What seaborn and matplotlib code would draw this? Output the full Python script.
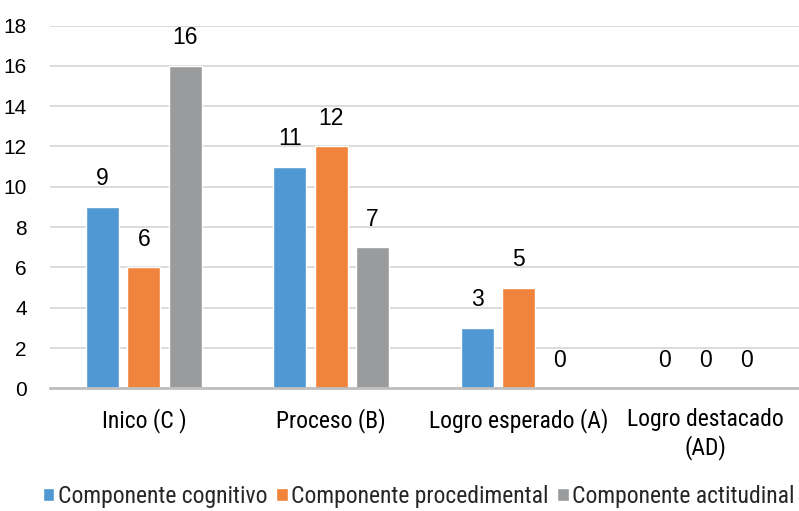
import matplotlib
matplotlib.use("Agg")
import matplotlib.pyplot as plt
import seaborn as sns
import pandas as pd

categories = ["Inico (C )", "Proceso (B)", "Logro esperado (A)", "Logro destacado\n(AD)"]
series = ["Componente cognitivo", "Componente procedimental", "Componente actitudinal"]
cognitivo = [9, 11, 3, 0]
procedimental = [6, 12, 5, 0]
actitudinal = [16, 7, 0, 0]
colors = ["#4F98D4", "#F0843C", "#999B9D"]

rows = []
for name, vals in zip(series, [cognitivo, procedimental, actitudinal]):
    for cat, v in zip(categories, vals):
        rows.append({"Nivel": cat, "Componente": name, "Valor": v})
df = pd.DataFrame(rows)

sns.set_theme(style="white")
text_font = ["Roboto Condensed", "Liberation Sans", "DejaVu Sans"]
digit_font = ["Liberation Sans", "DejaVu Sans"]
plt.rcParams["font.family"] = text_font

fig, ax = plt.subplots(figsize=(7.99, 5.11), dpi=100)
fig.subplots_adjust(left=0.063, right=1.0, top=0.95, bottom=0.24)

sns.barplot(data=df, x="Nivel", y="Valor", hue="Componente", palette=colors,
            width=0.66, gap=0.2, ax=ax, saturation=1, legend=True)

for cont in ax.containers:
    ax.bar_label(cont, labels=[f"{int(v)}" for v in cont.datavalues],
                 padding=12, fontsize=16.5, color="#000000", family=digit_font)

ax.set_ylim(0, 18)
ax.set_yticks(range(0, 19, 2))
ax.set_xlim(-0.5, 3.5)
ax.yaxis.grid(True, color="#D9D9D9", linewidth=1.3)
ax.set_axisbelow(True)
for s in ["top", "right", "left"]:
    ax.spines[s].set_visible(False)
ax.spines["bottom"].set_color("#BFBFBF")
ax.spines["bottom"].set_linewidth(2)
ax.tick_params(axis="y", labelsize=15, length=0, pad=17, colors="#000000")
ax.tick_params(axis="x", labelsize=17, length=0, pad=14, colors="#000000")
for lbl in ax.get_yticklabels():
    lbl.set_family(digit_font)
for lbl in ax.get_xticklabels():
    lbl.set_linespacing(1.2)
ax.set_xlabel("")
ax.set_ylabel("")

handles, labels = ax.get_legend_handles_labels()
ax.legend(handles, labels, loc="lower center", bbox_to_anchor=(0.492, -0.388),
          ncol=3, frameon=False, fontsize=17, handlelength=0.5, handleheight=0.5,
          handletextpad=0.15, columnspacing=0.35)

fig.savefig("out.png", dpi=100)
